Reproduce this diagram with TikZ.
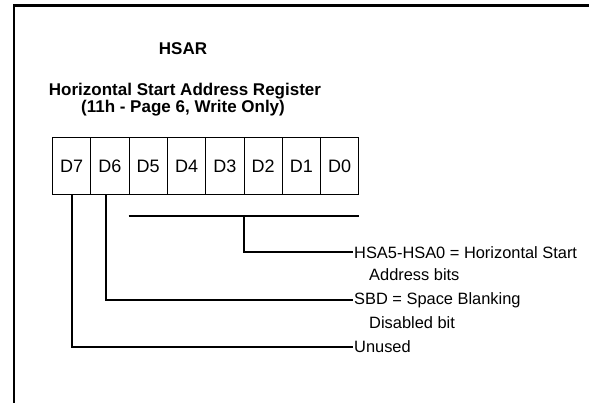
\documentclass[tikz,border=0pt]{standalone}
\usepackage{fontspec}
\setmainfont{Liberation Sans}
\begin{document}
\begin{tikzpicture}[x=1pt,y=-1pt,
  cell/.style={draw,line width=1pt,minimum width=38.3pt,minimum height=57pt,inner sep=0pt,font=\fontsize{18}{20}\selectfont,anchor=north west},
  wire/.style={line width=2pt},
  lbl/.style={anchor=west,inner sep=1pt,font=\fontsize{16.4}{18}\selectfont},
  ttl/.style={font=\bfseries\fontsize{17}{19}\selectfont,inner sep=0pt}]
\useasboundingbox (0,0) rectangle (589,403);
\draw[line width=2.2pt] (589,5.5) -- (14,5.5) -- (14,403);
\node[ttl] (t1) at (183,49) {HSAR};
\node[ttl] (t2) at (185,91) {Horizontal Start Address Register};
\node[ttl] (t3) at (183,108) {(11h - Page 6, Write Only)};
\foreach \n [count=\i from 0] in {7,6,5,4,3,2,1,0}
  \node[cell] (d\n) at (52+\i*38.3,137) {D\n};
\coordinate (bl) at ([yshift=-21pt]d5.south west);
\coordinate (br) at ([yshift=-21pt]d0.south east);
\coordinate (bm) at ([yshift=-21pt]d2.south west);
\node[lbl] (hsa) at (353,252.5) {HSA5-HSA0 = Horizontal Start};
\node[lbl] (hsa2) at (368,275) {Address bits};
\node[lbl] (sbd) at (353,300) {SBD = Space Blanking};
\node[lbl] (sbd2) at (368,322.5) {Disabled bit};
\node[lbl] (un) at (353,347) {Unused};
\draw[wire] (bl) -- (br);
\draw[wire] (bm) |- (hsa.west);
\draw[wire] ([xshift=-4pt]d6.south) |- (sbd.west);
\draw[wire] (d7.south) |- (un.west);
\end{tikzpicture}
\end{document}
